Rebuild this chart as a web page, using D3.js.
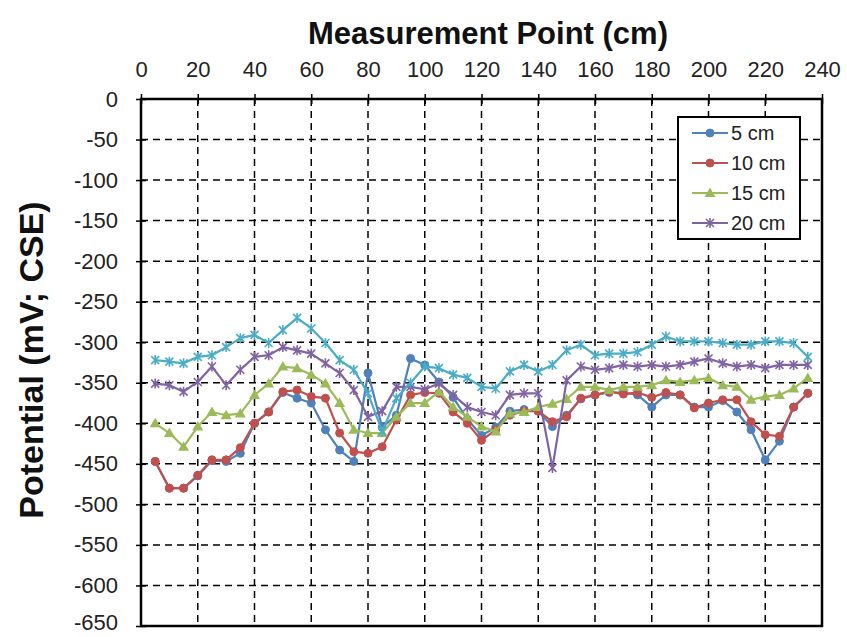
<!DOCTYPE html>
<html>
<head>
<meta charset="utf-8">
<script src="https://cdn.jsdelivr.net/npm/d3@7/dist/d3.min.js"></script>
<style>
  html, body { margin: 0; padding: 0; background: #fff; }
  svg { display: block; font-family: "Liberation Sans", Arial, sans-serif; }
</style>
</head>
<body>
<svg id="chart" width="847" height="637"></svg>
<script>
// Measurement positions along the member (cm)
const positions = [5,10,15,20,25,30,35,40,45,50,55,60,65,70,75,80,85,90,95,100,105,110,115,120,125,130,135,140,145,150,155,160,165,170,175,180,185,190,195,200,205,210,215,220,225,230,235];

// Half-cell potentials (mV vs CSE) at each depth
const depth5 = [-447,-480,-480,-465,-446,-447,-437,-400,-386,-362,-369,-375,-408,-433,-447,-338,-405,-390,-320,-328,-349,-368,-395,-415,-405,-385,-383,-385,-404,-390,-370,-365,-362,-362,-365,-380,-365,-365,-380,-380,-372,-386,-408,-445,-422,-380,-363];
const depth10 = [-447,-480,-480,-464,-445,-445,-430,-400,-386,-361,-359,-367,-369,-412,-435,-437,-429,-396,-365,-362,-363,-386,-400,-421,-408,-390,-385,-385,-398,-392,-369,-365,-361,-364,-362,-368,-362,-365,-381,-375,-371,-371,-398,-414,-416,-380,-363];
const depth15 = [-400,-412,-429,-404,-386,-390,-388,-365,-351,-330,-332,-340,-351,-375,-408,-412,-412,-392,-375,-375,-361,-380,-392,-404,-410,-388,-386,-380,-376,-370,-355,-355,-359,-355,-355,-353,-347,-349,-347,-344,-353,-355,-371,-367,-365,-357,-344];
const depth20 = [-351,-353,-361,-349,-330,-353,-334,-318,-316,-306,-310,-314,-326,-338,-359,-392,-385,-355,-355,-358,-351,-365,-380,-386,-390,-365,-363,-363,-455,-347,-330,-334,-332,-328,-330,-328,-330,-328,-324,-320,-326,-330,-328,-332,-328,-328,-328];
const depth25 = [-322,-324,-326,-318,-316,-306,-295,-291,-301,-285,-270,-283,-301,-322,-334,-363,-410,-369,-350,-330,-332,-340,-344,-355,-357,-336,-328,-336,-328,-310,-303,-316,-314,-314,-312,-303,-293,-299,-299,-299,-301,-303,-303,-299,-299,-301,-318];

const seriesNames = ["5 cm", "10 cm", "15 cm", "20 cm", "25 cm"];
const seriesValues = [depth5, depth10, depth15, depth20, depth25];
const seriesColors = ["#4F81BD", "#C0504D", "#9BBB59", "#8064A2", "#4BACC6"];
const seriesMarkers = ["circle", "circle", "triangle", "asterisk", "asterisk"];
const legendCount = 4; // the 25 cm trace has no key entry

const xTicks = [0,20,40,60,80,100,120,140,160,180,200,220,240];
const yTicks = [0,-50,-100,-150,-200,-250,-300,-350,-400,-450,-500,-550,-600,-650];

const svg = d3.select("#chart");
const plotLeft = 141, plotRight = 822, plotTop = 99, plotBottom = 626;

const x = d3.scaleLinear().domain([0, 240]).range([plotLeft, plotRight]);
const y = d3.scaleLinear().domain([0, -650]).range([plotTop, plotBottom]);

// dashed grid
const grid = svg.append("g");
grid.selectAll(".gx").data(xTicks.slice(1, -1)).join("line")
  .attr("x1", d => x(d)).attr("x2", d => x(d))
  .attr("y1", plotTop).attr("y2", plotBottom)
  .attr("stroke", "#000").attr("stroke-width", 1.5).attr("stroke-dasharray", "7,5");
grid.selectAll(".gy").data(yTicks.slice(1, -1)).join("line")
  .attr("x1", plotLeft).attr("x2", plotRight)
  .attr("y1", d => y(d)).attr("y2", d => y(d))
  .attr("stroke", "#000").attr("stroke-width", 1.5).attr("stroke-dasharray", "7,5");

// plot frame
svg.append("rect")
  .attr("x", plotLeft).attr("y", plotTop)
  .attr("width", plotRight - plotLeft).attr("height", plotBottom - plotTop)
  .attr("fill", "none").attr("stroke", "#000").attr("stroke-width", 2.5);

// axes (top and left), cross-style ticks
const xAxis = d3.axisTop(x).tickValues(xTicks).tickSize(5).tickPadding(17).tickFormat(d => String(d));
const gx = svg.append("g").attr("transform", `translate(0,${plotTop})`).call(xAxis);
gx.select(".domain").remove();
gx.selectAll(".tick line").attr("y2", -5).attr("y1", 5).attr("stroke-width", 1.5);
gx.selectAll(".tick text").attr("font-size", 22).attr("fill", "#222")
  .attr("font-family", "Liberation Sans, Arial, sans-serif");

const yAxis = d3.axisLeft(y).tickValues(yTicks).tickSize(5).tickPadding(18).tickFormat(d => String(d));
const gy = svg.append("g").attr("transform", `translate(${plotLeft},0)`).call(yAxis);
gy.select(".domain").remove();
gy.selectAll(".tick line").attr("x2", -5).attr("x1", 5).attr("stroke-width", 1.5);
gy.selectAll(".tick text").attr("font-size", 22).attr("fill", "#222")
  .attr("font-family", "Liberation Sans, Arial, sans-serif")
  .attr("y", d => d === -650 ? -4 : 0); // keep the lowest label inside the page

// axis titles
svg.append("text")
  .attr("x", 488).attr("y", 44)
  .attr("text-anchor", "middle")
  .attr("font-size", 31).attr("font-weight", "bold").attr("fill", "#111")
  .text("Measurement Point (cm)");
svg.append("text")
  .attr("transform", "translate(43,360) rotate(-90)")
  .attr("text-anchor", "middle")
  .attr("font-size", 34).attr("font-weight", "bold").attr("fill", "#111")
  .text("Potential (mV; CSE)");

// marker drawing
function drawMarker(g, kind, color) {
  if (kind === "circle") {
    g.append("circle").attr("r", 4).attr("fill", color).attr("stroke", color);
  } else if (kind === "triangle") {
    g.append("path").attr("d", "M0,-5.5L5.5,4L-5.5,4Z").attr("fill", color);
  } else {
    g.append("path").attr("d", "M-4,-4L4,4M-4,4L4,-4M0,-5L0,5")
      .attr("stroke", color).attr("stroke-width", 1.6).attr("fill", "none");
  }
}

const line = d3.line().x(d => x(d[0])).y(d => y(d[1]));
const plot = svg.append("g");
seriesValues.forEach((vals, i) => {
  const pts = positions.map((p, j) => [p, vals[j]]);
  const g = plot.append("g");
  g.append("path").datum(pts).attr("d", line)
    .attr("fill", "none").attr("stroke", seriesColors[i]).attr("stroke-width", 2.2)
    .attr("stroke-linejoin", "round");
  g.selectAll(".m").data(pts).join("g")
    .attr("transform", d => `translate(${x(d[0])},${y(d[1])})`)
    .each(function () { drawMarker(d3.select(this), seriesMarkers[i], seriesColors[i]); });
});

// legend
const lg = svg.append("g");
lg.append("rect").attr("x", 678).attr("y", 117).attr("width", 122).attr("height", 122)
  .attr("fill", "#fff").attr("stroke", "#000").attr("stroke-width", 2);
seriesNames.slice(0, legendCount).forEach((name, i) => {
  const cy = 133 + i * 30;
  const e = lg.append("g");
  e.append("line").attr("x1", 692).attr("x2", 728).attr("y1", cy).attr("y2", cy)
    .attr("stroke", seriesColors[i]).attr("stroke-width", 2);
  const m = e.append("g").attr("transform", `translate(710,${cy})`);
  drawMarker(m, seriesMarkers[i], seriesColors[i]);
  e.append("text").attr("x", 731).attr("y", cy + 7)
    .attr("font-size", 20).attr("fill", "#222").text(name);
});
</script>
</body>
</html>
